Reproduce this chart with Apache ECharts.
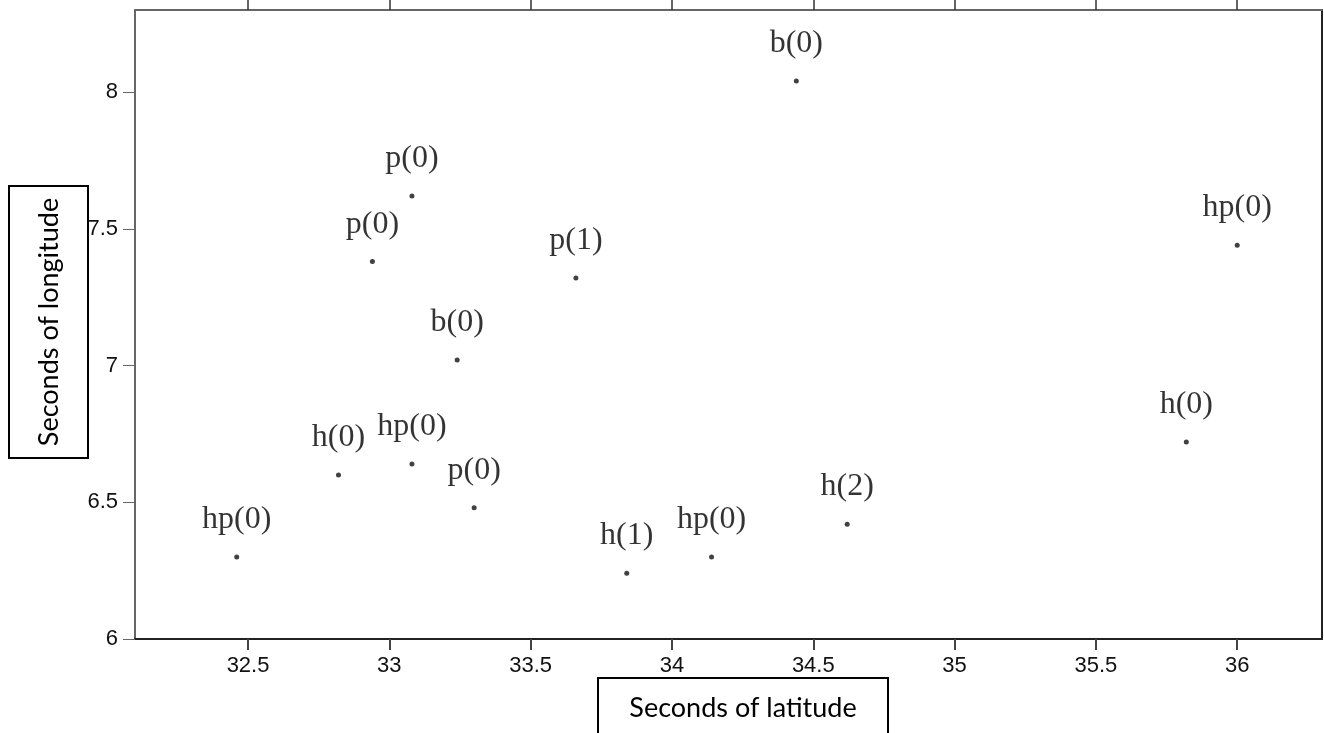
<!DOCTYPE html>
<html>
<head>
<meta charset="utf-8">
<script src="https://cdn.jsdelivr.net/npm/echarts@6/dist/echarts.min.js"></script>
<style>
html,body{margin:0;padding:0;background:#fff;}
#chart{width:1324px;height:733px;}
</style>
</head>
<body>
<div id="chart"></div>
<script>
const pointLabels = ['hp(0)','h(0)','p(0)','p(0)','hp(0)','b(0)','p(0)','p(1)','h(1)','hp(0)','b(0)','h(2)','h(0)','hp(0)'];
const latitude = [32.46,32.82,32.94,33.08,33.08,33.24,33.30,33.66,33.84,34.14,34.44,34.62,35.82,36.00];
const longitude = [6.30,6.60,7.38,7.62,6.64,7.02,6.48,7.32,6.24,6.30,8.04,6.42,6.72,7.44];
const xTicks = [32.5,33,33.5,34,34.5,35,35.5,36];
const yTicks = [6,6.5,7,7.5,8];
const xName = 'Seconds of latitude';
const yName = 'Seconds of longitude';

const points = latitude.map((x, i) => ({value: [x, longitude[i]], name: pointLabels[i]}));

const chart = echarts.init(document.getElementById('chart'), null, {renderer: 'canvas'});
chart.setOption({
  animation: false,
  backgroundColor: '#fff',
  grid: {left: 135, top: 10, right: 2, bottom: 94, containLabel: false},
  xAxis: [{
    type: 'value', position: 'bottom', min: 32.1, max: 36.3,
    axisLine: {show: true, lineStyle: {color: '#222', width: 2}},
    axisTick: {show: true, inside: false, length: 11, customValues: xTicks, lineStyle: {color: '#444', width: 2}},
    axisLabel: {show: true, customValues: xTicks, margin: 16, fontFamily: 'Liberation Sans', fontSize: 22, color: '#111'},
    splitLine: {show: false}
  }, {
    type: 'value', position: 'top', min: 32.1, max: 36.3,
    axisLine: {show: true, lineStyle: {color: '#666', width: 2}},
    axisTick: {show: true, inside: false, length: 12, customValues: xTicks, lineStyle: {color: '#333', width: 1.5}},
    axisLabel: {show: false},
    splitLine: {show: false}
  }],
  yAxis: [{
    type: 'value', position: 'left', min: 6, max: 8.3,
    axisLine: {show: true, lineStyle: {color: '#666', width: 2}},
    axisTick: {show: true, inside: false, length: 12, customValues: yTicks, lineStyle: {color: '#666', width: 1}},
    axisLabel: {show: true, customValues: yTicks, margin: 17, fontFamily: 'Liberation Sans', fontSize: 22, color: '#111'},
    splitLine: {show: false}
  }, {
    type: 'value', position: 'right', min: 6, max: 8.3,
    axisLine: {show: true, lineStyle: {color: '#222', width: 2}},
    axisTick: {show: false}, axisLabel: {show: false}, splitLine: {show: false}
  }],
  series: [{
    type: 'scatter',
    data: points,
    symbol: 'circle',
    symbolSize: 5,
    itemStyle: {color: '#111'},
    label: {
      show: true, position: 'top', distance: 19,
      formatter: p => p.name,
      fontFamily: 'Liberation Serif', fontSize: 32, color: '#000'
    }
  }],
  graphic: [{
    type: 'group', left: 8, top: 185,
    children: [
      {type: 'rect', shape: {x: 0, y: 0, width: 79, height: 272}, style: {fill: '#fff', stroke: '#000', lineWidth: 2}},
      {type: 'text', x: 40, y: 136, rotation: Math.PI / 2,
       style: {text: yName, fontFamily: 'Lato', fontSize: 27, fill: '#000', align: 'center', verticalAlign: 'middle'}}
    ]
  }, {
    type: 'group', left: 597, top: 677,
    children: [
      {type: 'rect', shape: {x: 0, y: 0, width: 290, height: 80}, style: {fill: '#fff', stroke: '#000', lineWidth: 2}},
      {type: 'text', x: 145, y: 30,
       style: {text: xName, fontFamily: 'Lato', fontSize: 27, fill: '#000', align: 'center', verticalAlign: 'middle'}}
    ]
  }]
});
</script>
</body>
</html>
